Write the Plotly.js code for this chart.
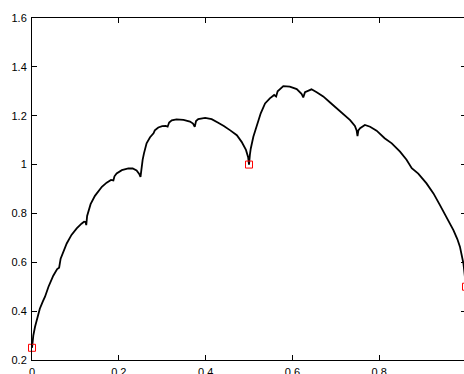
<!DOCTYPE html>
<html>
<head>
<meta charset="utf-8">
<script src="https://cdn.plot.ly/plotly-3.0.1.min.js"></script>
<style>
html,body{margin:0;padding:0;overflow:hidden;background:#fff;width:464px;height:374px;}
#chart{width:468px;height:390px;}
</style>
</head>
<body>
<div id="chart"></div>
<script>
// Curve values
const curveX = [0, 0.003, 0.007, 0.012, 0.018, 0.025, 0.03, 0.038, 0.049, 0.058, 0.0625, 0.066, 0.072, 0.08, 0.091, 0.103, 0.114, 0.12, 0.1235, 0.125, 0.127, 0.13, 0.135, 0.145, 0.153, 0.161, 0.172, 0.182, 0.1875, 0.19, 0.195, 0.207, 0.222, 0.232, 0.241, 0.247, 0.25, 0.252, 0.255, 0.258, 0.264, 0.272, 0.28, 0.283, 0.291, 0.3, 0.308, 0.3125, 0.316, 0.322, 0.333, 0.349, 0.364, 0.371, 0.375, 0.378, 0.383, 0.399, 0.414, 0.428, 0.4375, 0.442, 0.456, 0.472, 0.483, 0.493, 0.498, 0.5, 0.502, 0.504, 0.51, 0.518, 0.527, 0.537, 0.548, 0.558, 0.5625, 0.566, 0.579, 0.594, 0.61, 0.621, 0.625, 0.629, 0.636, 0.644, 0.656, 0.671, 0.6875, 0.702, 0.717, 0.733, 0.744, 0.748, 0.75, 0.752, 0.756, 0.767, 0.779, 0.794, 0.8125, 0.829, 0.848, 0.863, 0.875, 0.89, 0.909, 0.925, 0.94, 0.955, 0.971, 0.98, 0.986, 0.994, 1];
const curveY = [0.25, 0.30, 0.336, 0.37, 0.41, 0.44, 0.459, 0.50, 0.545, 0.572, 0.578, 0.615, 0.645, 0.677, 0.712, 0.739, 0.758, 0.766, 0.765, 0.752, 0.79, 0.807, 0.838, 0.872, 0.891, 0.909, 0.926, 0.937, 0.935, 0.952, 0.964, 0.977, 0.984, 0.984, 0.976, 0.962, 0.95, 0.99, 1.02, 1.046, 1.087, 1.112, 1.128, 1.140, 1.152, 1.157, 1.158, 1.155, 1.172, 1.181, 1.185, 1.183, 1.176, 1.168, 1.155, 1.178, 1.186, 1.191, 1.186, 1.172, 1.163, 1.158, 1.141, 1.12, 1.093, 1.06, 1.03, 1.0, 1.04, 1.065, 1.114, 1.162, 1.21, 1.25, 1.271, 1.285, 1.279, 1.30, 1.321, 1.319, 1.309, 1.29, 1.275, 1.296, 1.303, 1.308, 1.296, 1.279, 1.253, 1.23, 1.21, 1.182, 1.158, 1.14, 1.117, 1.14, 1.149, 1.162, 1.155, 1.139, 1.108, 1.087, 1.053, 1.02, 0.985, 0.963, 0.923, 0.882, 0.834, 0.787, 0.732, 0.695, 0.664, 0.596, 0.5];

// Marked points (red squares)
const markX = [0, 0.5, 1];
const markY = [0.25, 1, 0.5];

// Tick labels
const xTicks = [0, 0.2, 0.4, 0.6, 0.8, 1];
const xTickText = ["0", "0.2", "0.4", "0.6", "0.8", "1"];
const yTicks = [0.2, 0.4, 0.6, 0.8, 1, 1.2, 1.4, 1.6];
const yTickText = ["0.2", "0.4", "0.6", "0.8", "1", "1.2", "1.4", "1.6"];

const traces = [
  {x: curveX, y: curveY, type: 'scatter', mode: 'lines',
   line: {color: '#000', width: 1.8}, hoverinfo: 'skip'},
  {x: markX, y: markY, type: 'scatter', mode: 'markers', cliponaxis: false,
   marker: {symbol: 'square-open', size: 7, color: '#ff0000', line: {width: 1, color: '#ff0000'}}}
];

const axisCommon = {
  showgrid: false, zeroline: false, showline: true, linecolor: '#000', linewidth: 1,
  mirror: 'ticks', ticks: 'inside', ticklen: 5, tickwidth: 1, tickcolor: '#000',
  tickfont: {family: 'Liberation Sans, Arial, sans-serif', size: 11, color: '#000'},
  tickmode: 'array'
};

const layout = {
  width: 468, height: 390,
  margin: {l: 32, r: 2, t: 18, b: 30},
  paper_bgcolor: '#fff', plot_bgcolor: '#fff',
  showlegend: false,
  xaxis: Object.assign({}, axisCommon, {range: [0, 1], tickvals: xTicks, ticktext: xTickText, ticklabelstandoff: 2}),
  yaxis: Object.assign({}, axisCommon, {range: [0.2, 1.6], tickvals: yTicks, ticktext: yTickText, ticklabelstandoff: 2})
};

Plotly.newPlot('chart', traces, layout, {staticPlot: true, displayModeBar: false});
</script>
</body>
</html>
